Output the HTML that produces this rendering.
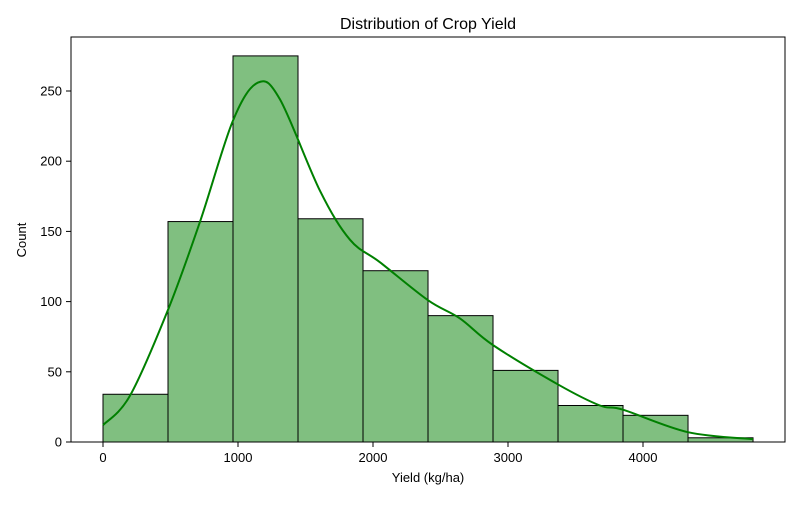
<!DOCTYPE html>
<html><head><meta charset="utf-8"><style>
body{margin:0;background:#fff;font-family:"Liberation Sans",sans-serif;}
</style></head><body>
<svg width="800" height="500" xmlns="http://www.w3.org/2000/svg" font-family="Liberation Sans, sans-serif">
<rect width="800" height="500" fill="#fff"/>
<text x="428" y="29" font-size="16" text-anchor="middle">Distribution of Crop Yield</text>
<g id="bars"></g>
<path id="kde" fill="none" stroke="#008000" stroke-width="2"/>
<rect x="71" y="37" width="714" height="405" fill="none" stroke="#000" stroke-width="1"/>
<g id="xticks"></g>
<g id="yticks"></g>
<text x="428" y="482" font-size="13" text-anchor="middle">Yield (kg/ha)</text>
<text transform="translate(26,240) rotate(-90)" font-size="13" text-anchor="middle">Count</text>
</svg>
<script>
const binEdges=[0,481.5,963,1444.5,1926,2407.5,2889,3370.5,3852,4333.5,4815];
const counts=[34,157,275,159,122,90,51,26,19,3];
const kdeX=[0,200,481,719,963,1148,1311,1607,1830,2052,2407,2644,2889,3370,3681,3852,4333,4815];
const kdeY=[12,33,94,157,229,256,244,179,144,128,101,88,69,41,26,23,7,2];
const xTicks=[0,1000,2000,3000,4000];
const yTicks=[0,50,100,150,200,250];
const NS="http://www.w3.org/2000/svg";
const sx=v=>103+v*0.135, sy=v=>442-v*1.404;
const bars=document.getElementById('bars');
counts.forEach((c,i)=>{
 const r=document.createElementNS(NS,'rect');
 r.setAttribute('x',sx(binEdges[i]));r.setAttribute('width',sx(binEdges[i+1])-sx(binEdges[i]));
 r.setAttribute('y',sy(c));r.setAttribute('height',sy(0)-sy(c));
 r.setAttribute('fill','#80bf80');r.setAttribute('stroke','#000');r.setAttribute('stroke-width','1');
 
 
 bars.appendChild(r);
});
const pts=kdeX.map((x,i)=>[sx(x),sy(kdeY[i])]);
let d='M'+pts[0][0]+','+pts[0][1];
for(let i=0;i<pts.length-1;i++){
 const p0=pts[Math.max(0,i-1)],p1=pts[i],p2=pts[i+1],p3=pts[Math.min(pts.length-1,i+2)];
 d+=' C'+(p1[0]+(p2[0]-p0[0])/6)+','+(p1[1]+(p2[1]-p0[1])/6)+' '+(p2[0]-(p3[0]-p1[0])/6)+','+(p2[1]-(p3[1]-p1[1])/6)+' '+p2[0]+','+p2[1];
}
document.getElementById('kde').setAttribute('d',d);
const xg=document.getElementById('xticks');
xTicks.forEach(t=>{
 const l=document.createElementNS(NS,'line');l.setAttribute('x1',sx(t));l.setAttribute('x2',sx(t));l.setAttribute('y1',442);l.setAttribute('y2',447);l.setAttribute('stroke','#000');
 
 
 xg.appendChild(l);
 const tx=document.createElementNS(NS,'text');tx.setAttribute('x',sx(t));tx.setAttribute('y',462);tx.setAttribute('font-size','13');tx.setAttribute('text-anchor','middle');tx.textContent=t;
 
 
 xg.appendChild(tx);
});
const yg=document.getElementById('yticks');
yTicks.forEach(t=>{
 const l=document.createElementNS(NS,'line');l.setAttribute('x1',66);l.setAttribute('x2',71);l.setAttribute('y1',sy(t));l.setAttribute('y2',sy(t));l.setAttribute('stroke','#000');
 
 
 yg.appendChild(l);
 const tx=document.createElementNS(NS,'text');tx.setAttribute('x',62);tx.setAttribute('y',sy(t)+4.5);tx.setAttribute('font-size','13');tx.setAttribute('text-anchor','end');tx.textContent=t;
 
 
 yg.appendChild(tx);
});
</script>
</body></html>
